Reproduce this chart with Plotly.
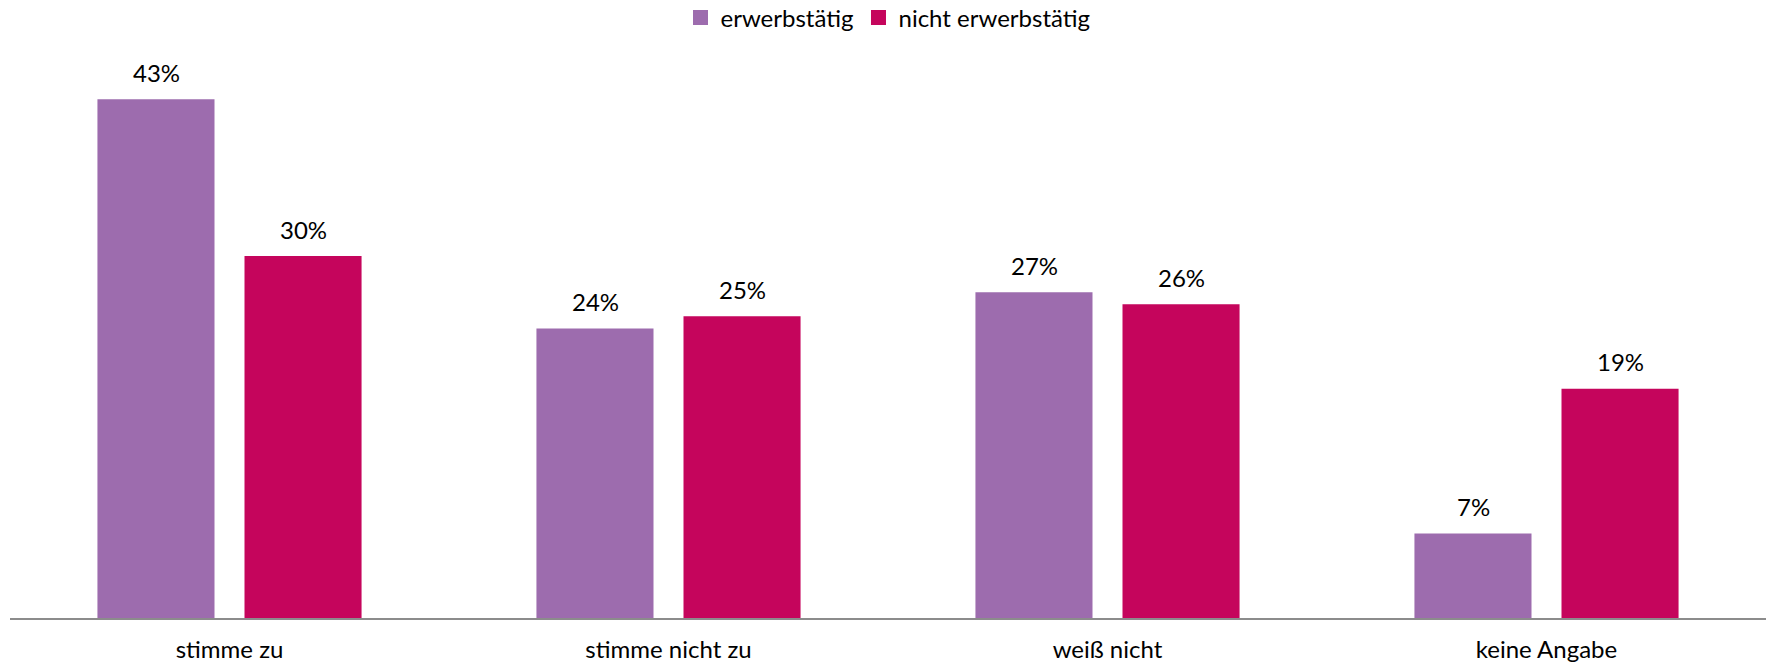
import plotly.graph_objects as go

# Survey answers by employment status (share of respondents, %)
categories = ["stimme zu", "stimme nicht zu", "weiß nicht", "keine Angabe"]
series_names = ["erwerbstätig", "nicht erwerbstätig"]
erwerbstaetig = [43, 24, 27, 7]
nicht_erwerbstaetig = [30, 25, 26, 19]
series_values = [erwerbstaetig, nicht_erwerbstaetig]
colors = ["#9D6CAE", "#C5055C"]

FONT = "Lato, 'Noto Sans', sans-serif"

fig = go.Figure()
for name, vals, col in zip(series_names, series_values, colors):
    fig.add_trace(go.Bar(
        name=name,
        x=categories,
        y=vals,
        marker=dict(color=col, line=dict(width=0)),
        offsetgroup=name,
        showlegend=False,
    ))

# legend entries with larger square swatches
for name, col in zip(series_names, colors):
    fig.add_trace(go.Scatter(
        name=name, x=[None], y=[None], mode="markers",
        marker=dict(symbol="square", size=15, color=col),
        showlegend=True,
    ))

# value labels above each bar
for i, (vals, name) in enumerate(zip(series_values, series_names)):
    offset = -0.5 if i == 0 else 0.5
    for c, v in zip(categories, vals):
        fig.add_annotation(
            x=c, y=v, xref="x", yref="y",
            text=f"{v}%",
            showarrow=False,
            yanchor="middle",
            yshift=27,
            xshift=offset * 147,
            font=dict(family=FONT, size=24, color="#000000"),
        )

fig.update_layout(
    width=1769, height=665,
    margin=dict(l=10, r=3, t=75, b=47, autoexpand=False),
    paper_bgcolor="white",
    plot_bgcolor="white",
    barmode="group",
    bargap=0.33,
    bargroupgap=0.204,
    font=dict(family=FONT, size=24, color="#000000"),
    showlegend=True,
    legend=dict(
        orientation="h",
        x=0.5, xanchor="center",
        yref="container", y=1 - 18 / 665, yanchor="middle",
        font=dict(family=FONT, size=24, color="#000000"),
        itemwidth=30,
    ),
    xaxis=dict(
        showline=True, linecolor="#8C8C8C", linewidth=1.5,
        ticks="outside", ticklen=9, tickcolor="rgba(0,0,0,0)",
        tickfont=dict(family=FONT, size=24, color="#000000"),
        showgrid=False, zeroline=False,
        automargin=False,
    ),
    yaxis=dict(
        range=[0, 45],
        visible=False,
        showgrid=False, zeroline=False,
        automargin=False,
    ),
)

fig.write_html("out.html")
